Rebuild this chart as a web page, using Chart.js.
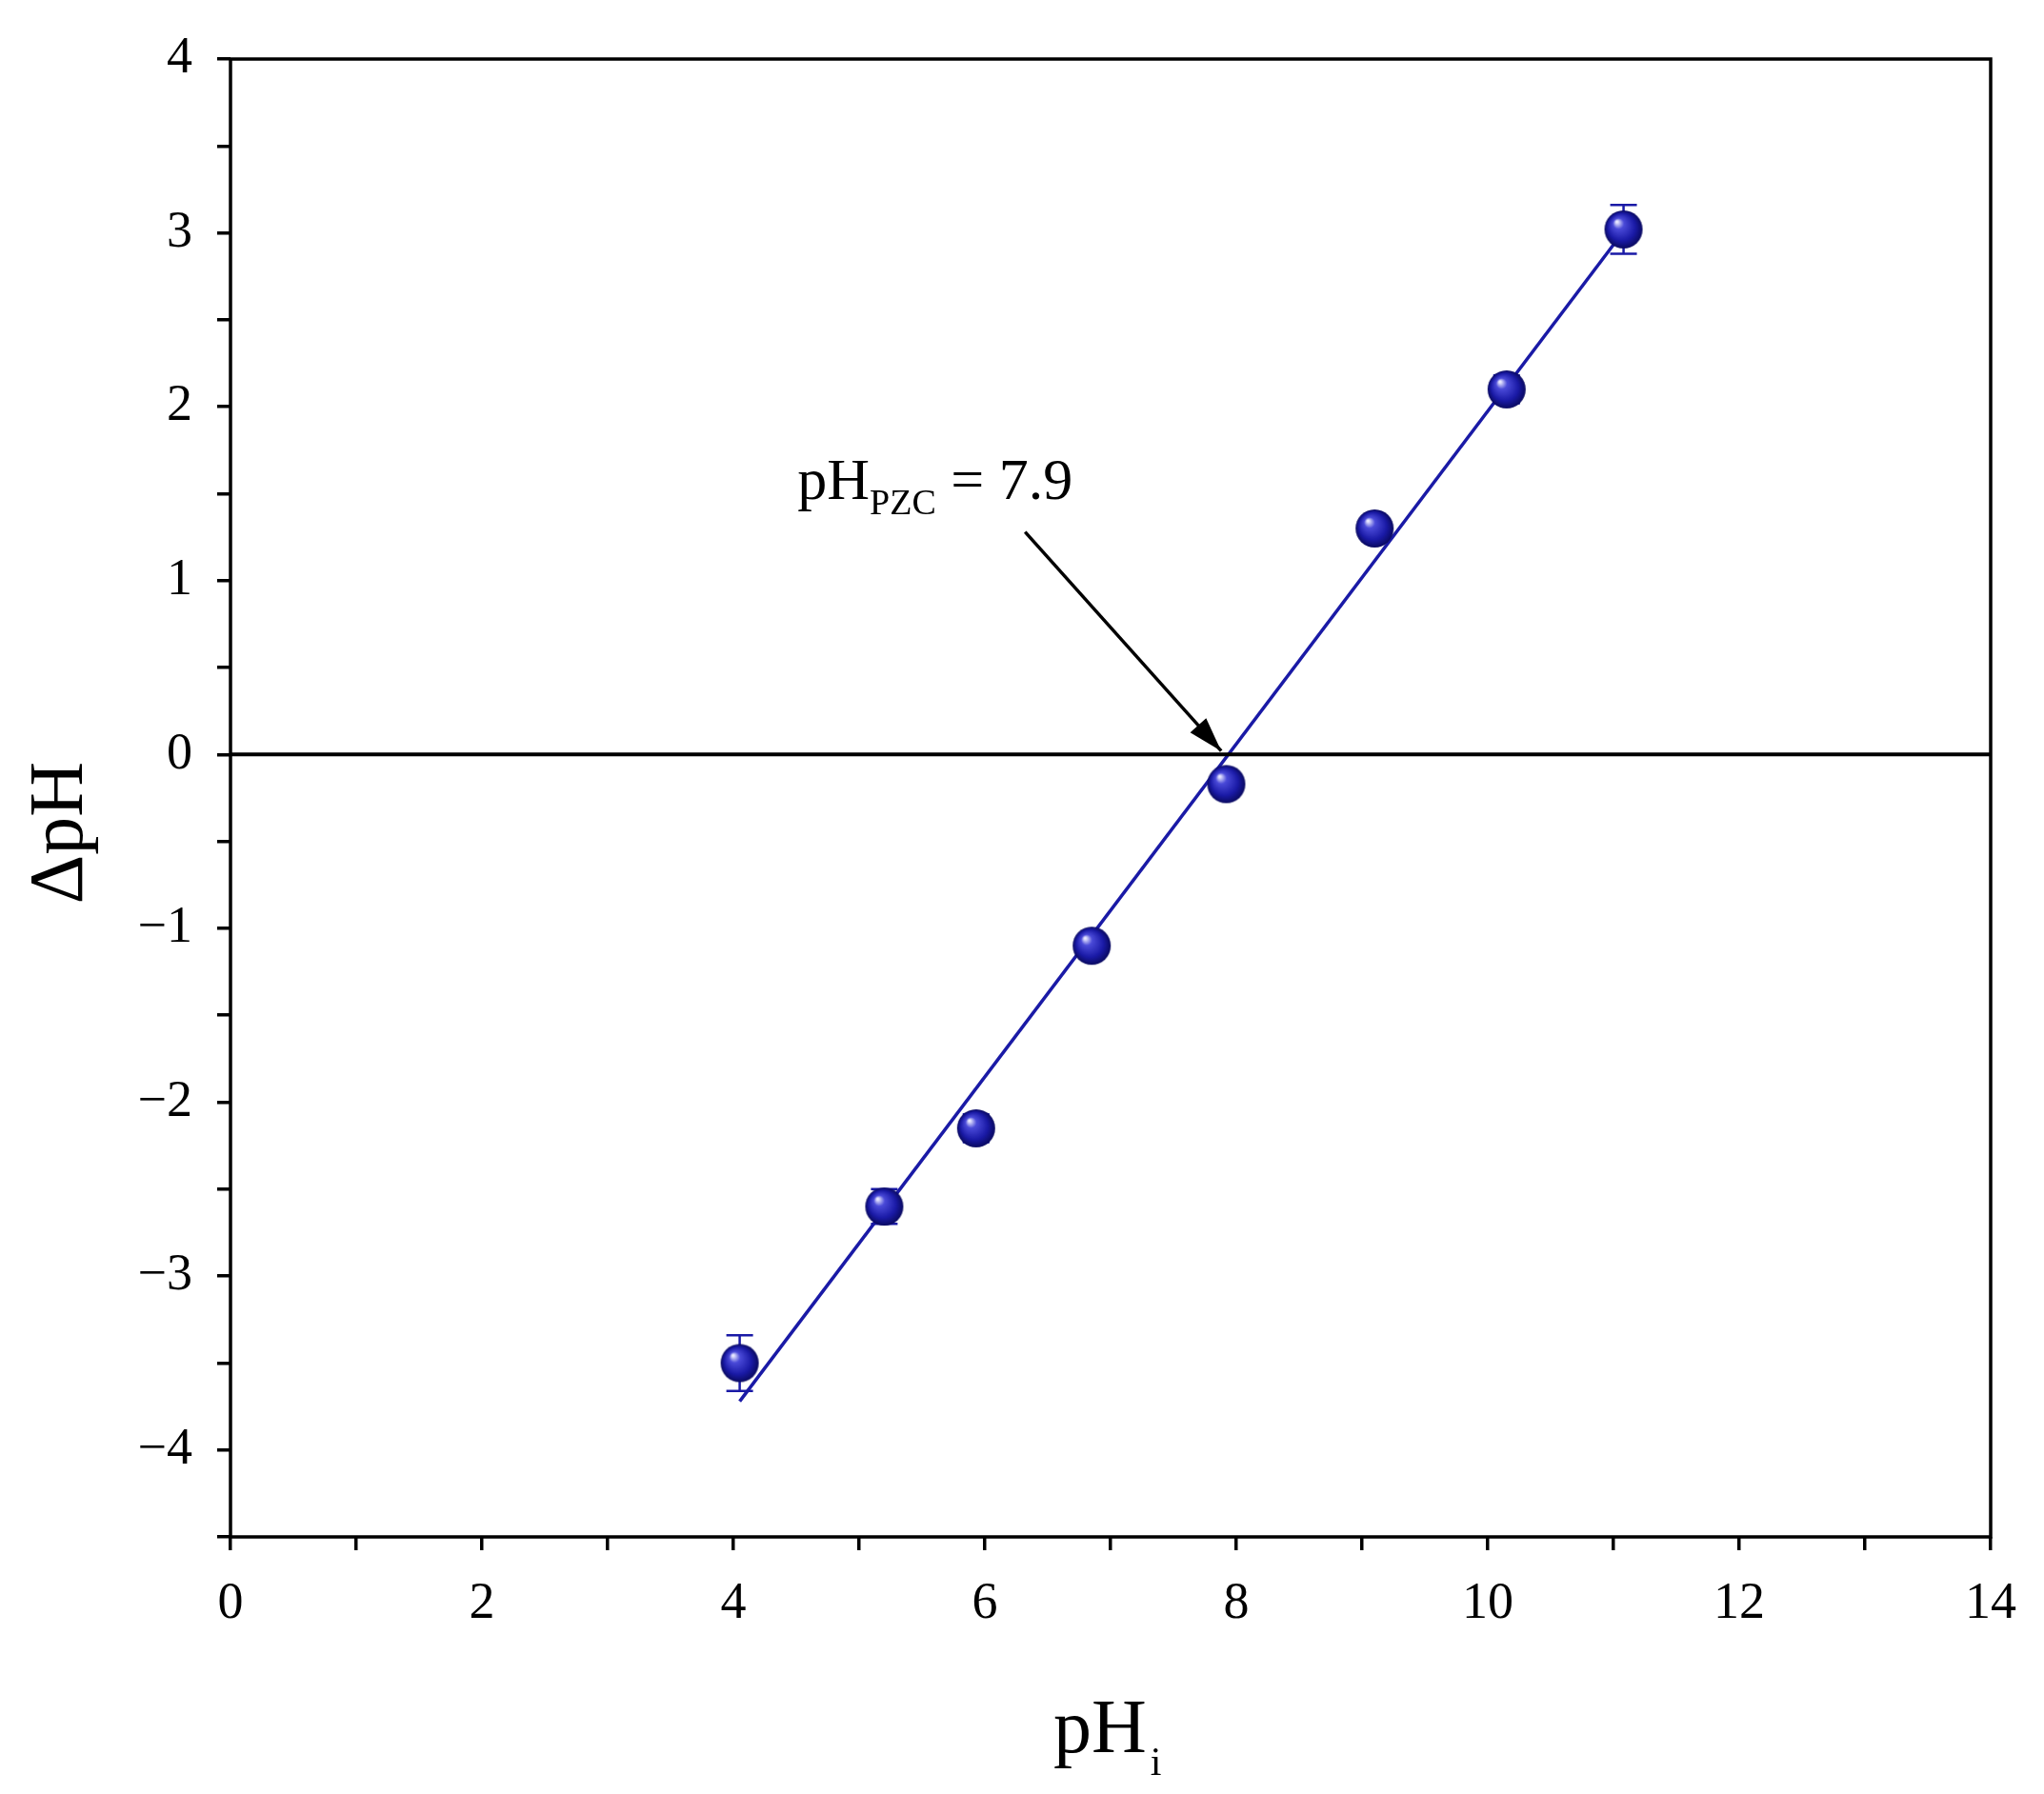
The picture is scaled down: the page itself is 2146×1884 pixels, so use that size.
<!DOCTYPE html>
<html>
<head>
<meta charset="utf-8">
<script src="https://cdn.jsdelivr.net/npm/chart.js@4/dist/chart.umd.min.js"></script>
<style>
  html, body { margin: 0; padding: 0; background: #fff; }
  #wrap { width: 2146px; height: 1884px; }
</style>
</head>
<body>
<div id="wrap"><canvas id="c" width="2146" height="1884"></canvas></div>
<script>
  // measured points (pHi, ΔpH) and error
  var phInit = [4.05, 5.2, 5.93, 6.85, 7.92, 9.1, 10.15, 11.08];
  var deltaPh = [-3.5, -2.6, -2.15, -1.1, -0.17, 1.3, 2.1, 3.02];
  var errs = [0.16, 0.1, 0.08, 0.06, 0.06, 0.06, 0.08, 0.14];
  // linear fit end points
  var fitX = [4.05, 11.05];
  var fitY = [-3.72, 2.98];
  var zeroX = [0, 14];
  var zeroY = [0, 0];
  var SERIF = "'Liberation Serif', 'DejaVu Serif', serif";

  // sphere marker
  var R = 20;
  var ball = document.createElement("canvas");
  ball.width = ball.height = R * 2 + 2;
  (function () {
    var g = ball.getContext("2d");
    var grd = g.createRadialGradient(R - 6, R - 7, 1, R + 1, R + 1, R);
    grd.addColorStop(0, "#e8e8ff");
    grd.addColorStop(0.25, "#4a4ad8");
    grd.addColorStop(0.7, "#1a1aa6");
    grd.addColorStop(1, "#0a0a60");
    g.fillStyle = grd;
    g.beginPath(); g.arc(R + 1, R + 1, R, 0, Math.PI * 2); g.fill();
  })();

  var frame = {
    id: "frame",
    afterDatasetsDraw: function (chart) {
      var ctx = chart.ctx, a = chart.chartArea, xs = chart.scales.x, ys = chart.scales.y;
      ctx.save();
      // error bars
      ctx.strokeStyle = "#1a1aa6"; ctx.lineWidth = 2.5;
      phInit.forEach(function (x, i) {
        var px = xs.getPixelForValue(x);
        var t = ys.getPixelForValue(deltaPh[i] + errs[i]);
        var b = ys.getPixelForValue(deltaPh[i] - errs[i]);
        ctx.beginPath();
        ctx.moveTo(px, t); ctx.lineTo(px, b);
        ctx.moveTo(px - 14, t); ctx.lineTo(px + 14, t);
        ctx.moveTo(px - 14, b); ctx.lineTo(px + 14, b);
        ctx.stroke();
      });
      chart.getDatasetMeta(2).data.forEach(function (p) {
        ctx.drawImage(ball, p.x - R - 1, p.y - R - 1);
      });
      // box
      ctx.strokeStyle = "#000"; ctx.lineWidth = 3.5;
      ctx.strokeRect(a.left, a.top, a.right - a.left, a.bottom - a.top);
      // annotation
      ctx.fillStyle = "#000";
      ctx.font = "62px " + SERIF;
      ctx.textBaseline = "alphabetic";
      var tx = xs.getPixelForValue(4.51), ty = ys.getPixelForValue(1.47);
      ctx.fillText("pH", tx, ty);
      var w = ctx.measureText("pH").width;
      ctx.font = "38px " + SERIF;
      ctx.fillText("PZC", tx + w, ty + 16);
      var w2 = ctx.measureText("PZC").width;
      ctx.font = "62px " + SERIF;
      ctx.fillText(" = 7.9", tx + w + w2, ty);
      // arrow
      var x1 = xs.getPixelForValue(6.32), y1 = ys.getPixelForValue(1.28);
      var x2 = xs.getPixelForValue(7.88), y2 = ys.getPixelForValue(0.02);
      ctx.lineWidth = 3.5;
      ctx.beginPath(); ctx.moveTo(x1, y1); ctx.lineTo(x2, y2); ctx.stroke();
      var ang = Math.atan2(y2 - y1, x2 - x1), L = 38;
      ctx.beginPath();
      ctx.moveTo(x2, y2);
      ctx.lineTo(x2 - L * Math.cos(ang - 0.3), y2 - L * Math.sin(ang - 0.3));
      ctx.lineTo(x2 - L * Math.cos(ang + 0.3), y2 - L * Math.sin(ang + 0.3));
      ctx.closePath(); ctx.fill();
      // axis titles
      ctx.font = "80px " + SERIF;
      ctx.textAlign = "left";
      var xt = (a.left + a.right) / 2 - 60;
      ctx.fillText("pH", xt, 1840);
      var wx = ctx.measureText("pH").width;
      ctx.font = "42px " + SERIF;
      ctx.fillText("i", xt + wx + 4, 1864);
      ctx.translate(86, ys.getPixelForValue(-0.45));
      ctx.rotate(-Math.PI / 2);
      ctx.font = "80px " + SERIF;
      ctx.textAlign = "center";
      ctx.fillText("ΔpH", 0, 0);
      ctx.restore();
    }
  };

  new Chart(document.getElementById("c"), {
    type: "scatter",
    data: {
      datasets: [
        { data: zeroX.map(function (x, i) { return { x: x, y: zeroY[i] }; }), showLine: true, borderColor: "#000", borderWidth: 4, pointRadius: 0 },
        { data: fitX.map(function (x, i) { return { x: x, y: fitY[i] }; }), showLine: true, borderColor: "#1a1aa6", borderWidth: 3.5, pointRadius: 0 },
        { data: phInit.map(function (x, i) { return { x: x, y: deltaPh[i] }; }), pointRadius: 0, showLine: false }
      ]
    },
    plugins: [frame],
    options: {
      responsive: false, animation: false,
      layout: { padding: { left: 0, top: 62, right: 56, bottom: 0 } },
      plugins: { legend: { display: false }, tooltip: { enabled: false } },
      scales: {
        x: {
          type: "linear", min: 0, max: 14,
          afterFit: function (s) { s.height = 270; },
          grid: { drawOnChartArea: false, tickLength: 14, color: "#000", lineWidth: 3.5 },
          border: { display: false },
          ticks: { stepSize: 1, padding: 24, color: "#000", font: { family: SERIF, size: 54 },
            callback: function (v) { return v % 2 === 0 ? String(v) : ""; } }
        },
        y: {
          type: "linear", min: -4.5, max: 4,
          afterFit: function (s) { s.width = 242; },
          grid: { drawOnChartArea: false, tickLength: 14, color: "#000", lineWidth: 3.5 },
          border: { display: false },
          ticks: { stepSize: 0.5, padding: 26, color: "#000", font: { family: SERIF, size: 54 },
            callback: function (v) { return Number.isInteger(v) ? (v < 0 ? "\u2212" + Math.abs(v) : String(v)) : ""; } }
        }
      }
    }
  });
</script>
</body>
</html>
